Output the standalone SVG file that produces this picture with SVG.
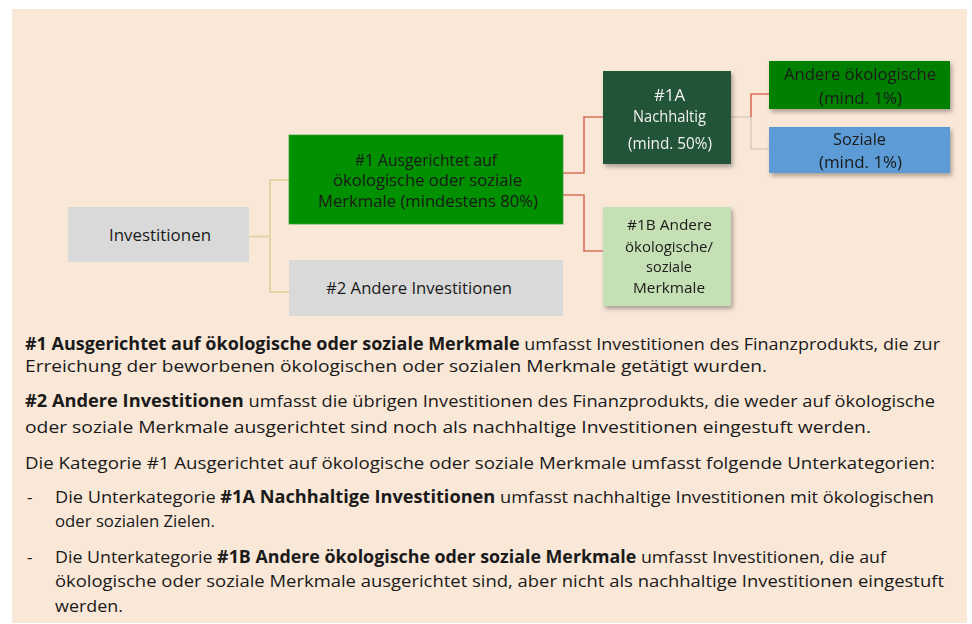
<svg xmlns="http://www.w3.org/2000/svg" width="972" height="624" viewBox="0 0 972 624">
<defs>
<style>
.t{font-family:"Open Sans","Liberation Sans",sans-serif;fill:#1a1a1a}
.n{font-size:16px;text-anchor:middle}
.s{font-size:15px}
.w{fill:#f2f2f2}
.p{font-size:17px}
.b{font-weight:bold}
.tan{stroke:#E2D4A6;stroke-width:2;fill:none}
.red{stroke:#D8705C;stroke-width:1.6;fill:none}
.gry{stroke:#DCCBC0;stroke-width:1.6;fill:none}
</style>
<filter id="sh" x="-10%" y="-10%" width="130%" height="130%">
<feDropShadow dx="2" dy="3" stdDeviation="2" flood-color="#000" flood-opacity="0.3"/>
</filter>
</defs>
<rect x="0" y="0" width="972" height="624" fill="#ffffff"/>
<rect x="12" y="9" width="955" height="614" fill="#F9E7D7"/>

<g id="connectors">
<path class="tan" d="M249,236.5 H270 M270,180 V292 M270,180 H289 M270,292 H289"/>
<path class="red" d="M563,173 H584 V117 H603"/>
<path class="red" d="M563,195 H584 V251 H603"/>
<path class="gry" d="M731,117 H751 V149 H769"/>
<path class="red" d="M751,117 V94 H769"/>
</g>

<g id="investitionen">
<rect x="68" y="207" width="181" height="55" fill="#D9D9D9"/>
<text class="t n" x="160" y="241" textLength="102" lengthAdjust="spacingAndGlyphs">Investitionen</text>
</g>

<g id="n1">
<rect x="289" y="135" width="274" height="89" fill="#009000" stroke="#3aa03a" stroke-width="0.8"/>
<text class="t n" x="426" y="165.5" textLength="142" lengthAdjust="spacingAndGlyphs">#1 Ausgerichtet auf</text>
<text class="t n" x="427.5" y="186" textLength="189" lengthAdjust="spacingAndGlyphs">ökologische oder soziale</text>
<text class="t n" x="428" y="206.5" textLength="220" lengthAdjust="spacingAndGlyphs">Merkmale (mindestens 80%)</text>
</g>

<g id="n2">
<rect x="289" y="260" width="274" height="56" fill="#D9D9D9"/>
<text class="t n" x="419" y="294" textLength="186" lengthAdjust="spacingAndGlyphs">#2 Andere Investitionen</text>
</g>

<g id="n1a" filter="url(#sh)">
<rect x="603" y="71" width="128" height="93" fill="#245438"/>
<text class="t n w" x="669.5" y="100.5" textLength="31" lengthAdjust="spacingAndGlyphs">#1A</text>
<text class="t n w" x="669.5" y="122" textLength="73" lengthAdjust="spacingAndGlyphs">Nachhaltig</text>
<text class="t n w" x="670" y="148.5" textLength="84" lengthAdjust="spacingAndGlyphs">(mind. 50%)</text>
</g>

<g id="andere" filter="url(#sh)">
<rect x="769" y="61" width="181" height="48" fill="#008000"/>
<text class="t n" x="860" y="80" textLength="152" lengthAdjust="spacingAndGlyphs">Andere ökologische</text>
<text class="t n" x="860.5" y="103.5" textLength="83" lengthAdjust="spacingAndGlyphs">(mind. 1%)</text>
</g>

<g id="soziale" filter="url(#sh)">
<rect x="769" y="127" width="181" height="46" fill="#5B9BD5"/>
<text class="t n" x="859.5" y="144.5" textLength="53" lengthAdjust="spacingAndGlyphs">Soziale</text>
<text class="t n" x="860.5" y="167.5" textLength="83" lengthAdjust="spacingAndGlyphs">(mind. 1%)</text>
</g>

<g id="n1b" filter="url(#sh)">
<rect x="603" y="207" width="128" height="99" fill="#C5E0B4"/>
<text class="t n s" x="669.5" y="230" textLength="85" lengthAdjust="spacingAndGlyphs">#1B Andere</text>
<text class="t n s" x="669" y="251.5" textLength="88" lengthAdjust="spacingAndGlyphs">ökologische/</text>
<text class="t n s" x="669" y="272" textLength="46" lengthAdjust="spacingAndGlyphs">soziale</text>
<text class="t n s" x="669" y="293" textLength="72" lengthAdjust="spacingAndGlyphs">Merkmale</text>
</g>

<g id="description">
<text class="t p" x="25" y="350" textLength="915" lengthAdjust="spacingAndGlyphs"><tspan class="b">#1 Ausgerichtet auf ökologische oder soziale Merkmale</tspan> umfasst Investitionen des Finanzprodukts, die zur</text>
<text class="t p" x="25" y="371.5" textLength="742" lengthAdjust="spacingAndGlyphs">Erreichung der beworbenen ökologischen oder sozialen Merkmale getätigt wurden.</text>
<text class="t p" x="25" y="407" textLength="910" lengthAdjust="spacingAndGlyphs"><tspan class="b">#2 Andere Investitionen</tspan> umfasst die übrigen Investitionen des Finanzprodukts, die weder auf ökologische</text>
<text class="t p" x="25" y="432.5" textLength="846" lengthAdjust="spacingAndGlyphs">oder soziale Merkmale ausgerichtet sind noch als nachhaltige Investitionen eingestuft werden.</text>
<text class="t p" x="25" y="468.5" textLength="910" lengthAdjust="spacingAndGlyphs">Die Kategorie #1 Ausgerichtet auf ökologische oder soziale Merkmale umfasst folgende Unterkategorien:</text>
<text class="t p" x="27" y="502.5">-</text>
<text class="t p" x="55" y="502.5" textLength="879" lengthAdjust="spacingAndGlyphs">Die Unterkategorie <tspan class="b">#1A Nachhaltige Investitionen</tspan> umfasst nachhaltige Investitionen mit ökologischen</text>
<text class="t p" x="55" y="527" textLength="160" lengthAdjust="spacingAndGlyphs">oder sozialen Zielen.</text>
<text class="t p" x="27" y="562.5">-</text>
<text class="t p" x="55" y="562.5" textLength="831" lengthAdjust="spacingAndGlyphs">Die Unterkategorie <tspan class="b">#1B Andere ökologische oder soziale Merkmale</tspan> umfasst Investitionen, die auf</text>
<text class="t p" x="55" y="587" textLength="889" lengthAdjust="spacingAndGlyphs">ökologische oder soziale Merkmale ausgerichtet sind, aber nicht als nachhaltige Investitionen eingestuft</text>
<text class="t p" x="55" y="611.5" textLength="68" lengthAdjust="spacingAndGlyphs">werden.</text>
</g>
</svg>
